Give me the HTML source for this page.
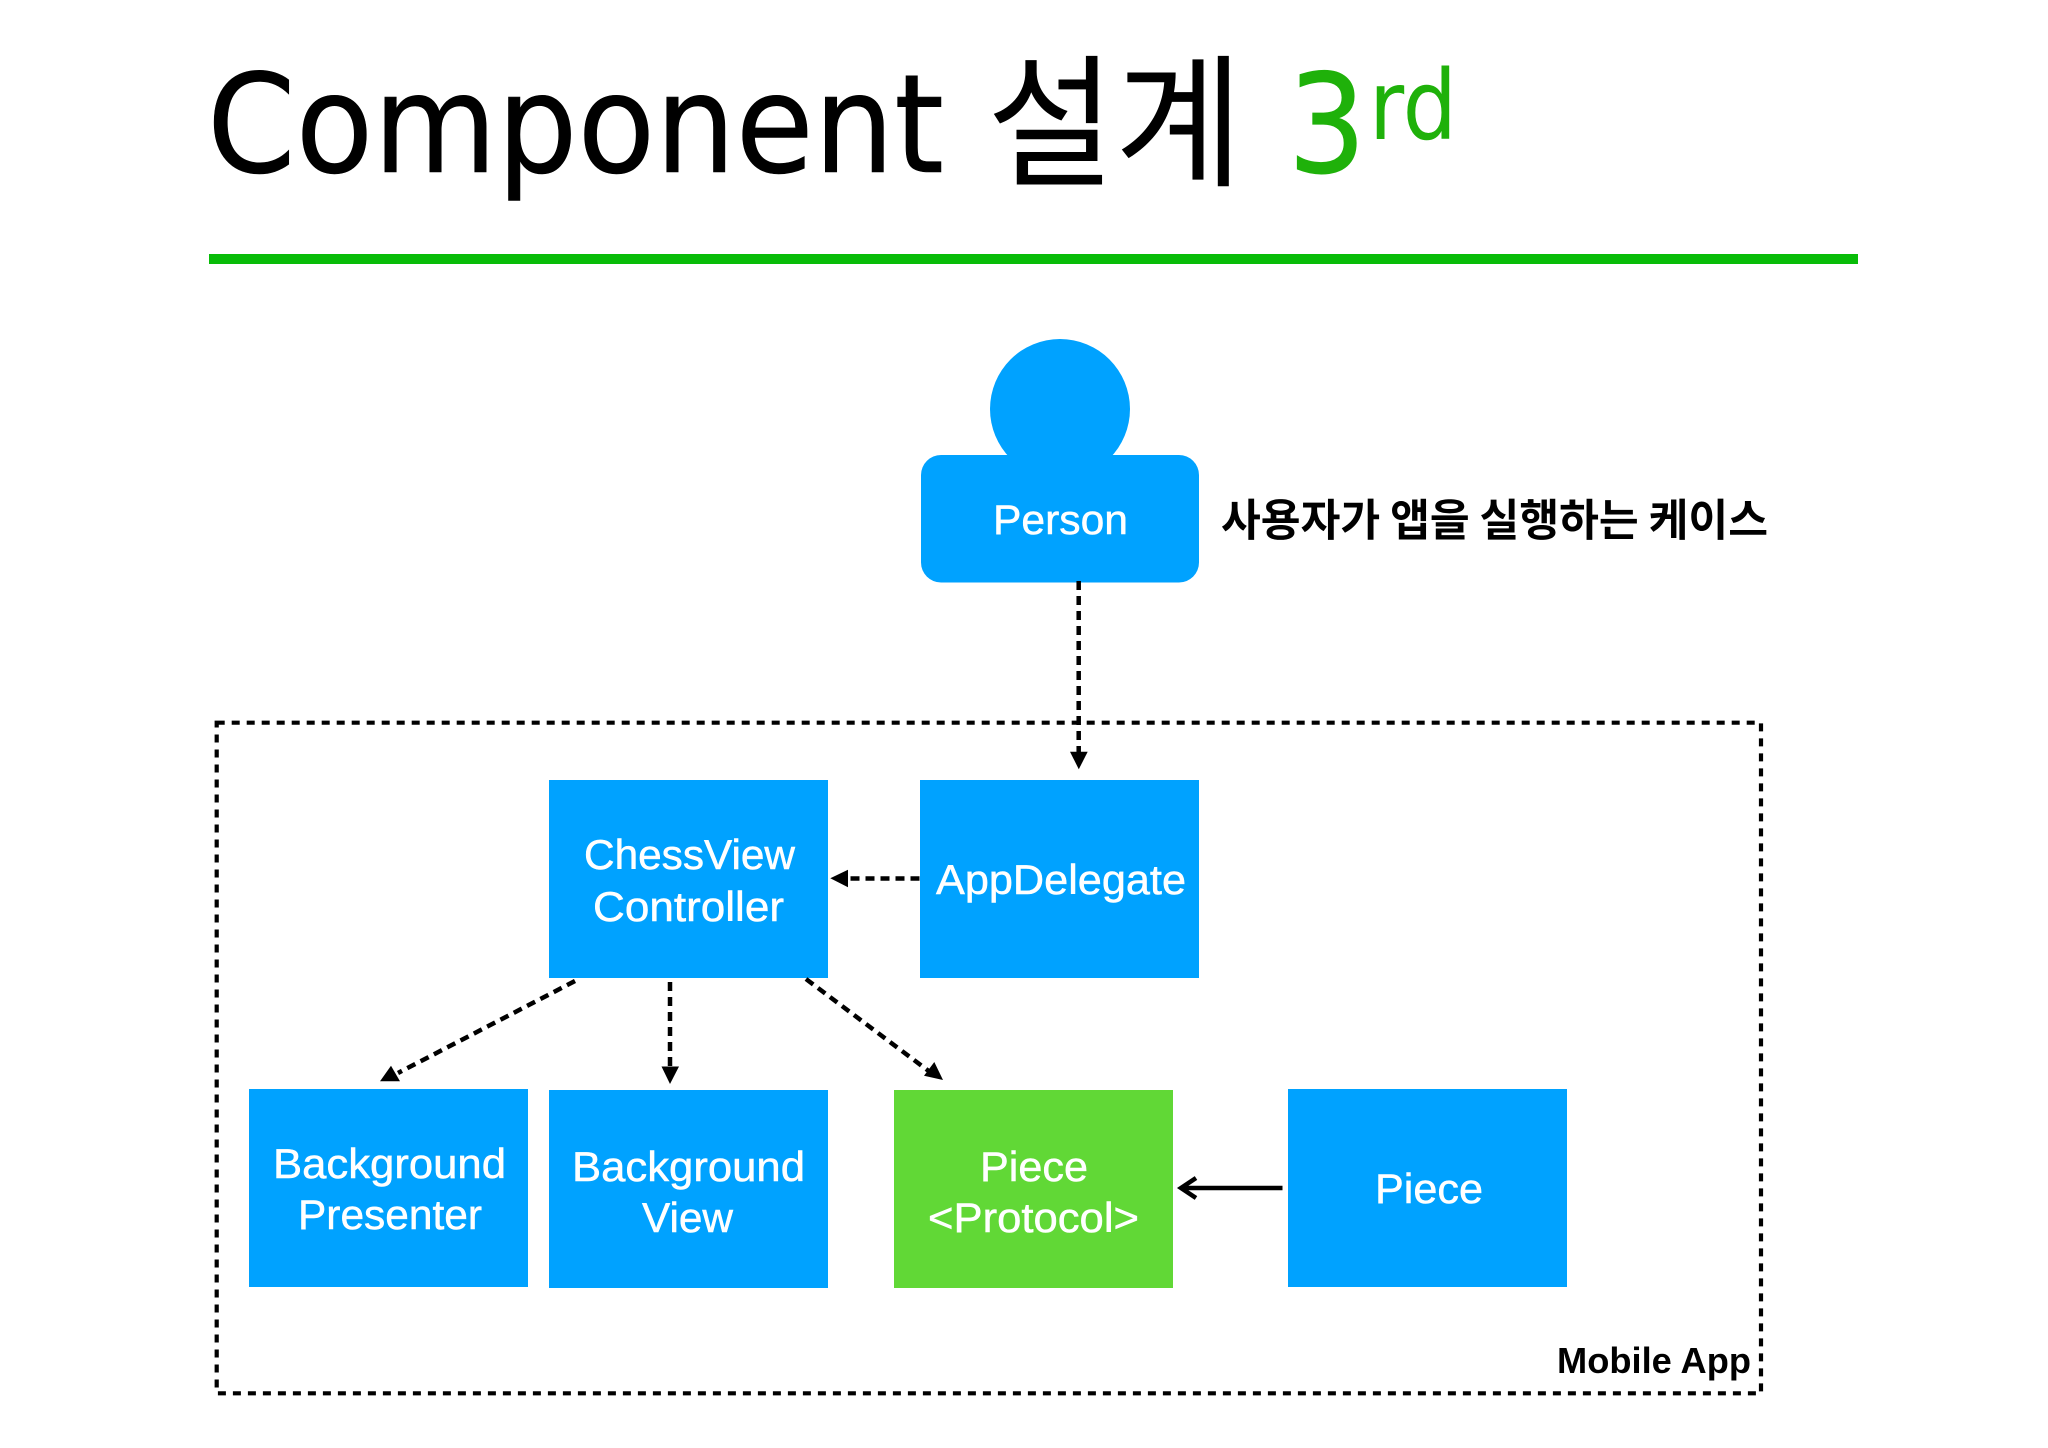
<!DOCTYPE html>
<html>
<head>
<meta charset="utf-8">
<style>
html,body{margin:0;padding:0;background:#fff;width:2048px;height:1448px;overflow:hidden}
svg{display:block}
.t{font-family:"Liberation Sans",sans-serif;font-size:42px;fill:#fff;stroke:#fff;stroke-width:.5px}
.d{font-family:"DejaVu Sans",sans-serif}
</style>
</head>
<body>
<svg width="2048" height="1448" viewBox="0 0 2048 1448" xmlns="http://www.w3.org/2000/svg">
<rect width="2048" height="1448" fill="#fff"/>

<!-- Title -->
<text class="d" x="207" y="172" font-size="137" fill="#000" stroke="#000" stroke-width=".6" textLength="737" lengthAdjust="spacingAndGlyphs">Component</text>
<text x="987" y="175" font-size="144" fill="#000" style="font-family:'Noto Sans CJK KR',sans-serif" textLength="256" lengthAdjust="spacingAndGlyphs">설계</text>
<text class="d" x="1288" y="172" font-size="137" fill="#1fb10a" stroke="#1fb10a" stroke-width="1" textLength="78" lengthAdjust="spacingAndGlyphs">3</text>
<text class="d" x="1369" y="139" font-size="96" fill="#1fb10a" textLength="88" lengthAdjust="spacingAndGlyphs">rd</text>
<rect x="209" y="254" width="1649" height="10" fill="#08bc08"/>

<!-- Person -->
<circle cx="1060" cy="409" r="70" fill="#00a2ff"/>
<rect x="921" y="455" width="278" height="127.500" rx="20" ry="20" fill="#00a2ff"/>
<text class="t" x="993" y="534" textLength="135" lengthAdjust="spacingAndGlyphs">Person</text>
<text x="1221" y="535.500" font-size="44" font-weight="700" fill="#000" style="font-family:'Noto Sans CJK KR',sans-serif" textLength="547" lengthAdjust="spacingAndGlyphs">사용자가 앱을 실행하는 케이스</text>

<!-- Boundary -->
<rect x="216.700" y="722.700" width="1544.300" height="670.600" fill="none" stroke="#000" stroke-width="4.200" stroke-dasharray="8 7"/>

<!-- Boxes -->
<rect x="549" y="780" width="279" height="198" fill="#00a2ff"/>
<rect x="920" y="780" width="279" height="198" fill="#00a2ff"/>
<rect x="249" y="1089" width="279" height="198" fill="#00a2ff"/>
<rect x="549" y="1090" width="279" height="198" fill="#00a2ff"/>
<rect x="894" y="1090" width="279" height="198" fill="#61d836"/>
<rect x="1288" y="1089" width="279" height="198" fill="#00a2ff"/>

<!-- Box text -->
<text class="t" x="584" y="869" textLength="211" lengthAdjust="spacingAndGlyphs">ChessView</text>
<text class="t" x="593" y="921" textLength="191" lengthAdjust="spacingAndGlyphs">Controller</text>
<text class="t" x="936" y="894" textLength="250" lengthAdjust="spacingAndGlyphs">AppDelegate</text>
<text class="t" x="273" y="1178" textLength="233" lengthAdjust="spacingAndGlyphs">Background</text>
<text class="t" x="298" y="1229" textLength="184" lengthAdjust="spacingAndGlyphs">Presenter</text>
<text class="t" x="572" y="1181" textLength="233" lengthAdjust="spacingAndGlyphs">Background</text>
<text class="t" x="642" y="1232" textLength="91" lengthAdjust="spacingAndGlyphs">View</text>
<text class="t" x="980" y="1181" textLength="108" lengthAdjust="spacingAndGlyphs">Piece</text>
<text class="t" x="928" y="1232" textLength="211" lengthAdjust="spacingAndGlyphs">&lt;Protocol&gt;</text>
<text class="t" x="1375" y="1203" textLength="108" lengthAdjust="spacingAndGlyphs">Piece</text>
<text x="1557" y="1373" font-family="'Liberation Sans',sans-serif" font-size="36" font-weight="700" fill="#000" textLength="194" lengthAdjust="spacingAndGlyphs">Mobile App</text>

<!-- Connectors -->
<g fill="none" stroke="#000" stroke-width="4.500" stroke-dasharray="9 6">
<line x1="1078.700" y1="581" x2="1078.700" y2="753"/>
<line x1="919.500" y1="878.500" x2="849" y2="878.500"/>
<line x1="575" y1="981" x2="398" y2="1073"/>
<line x1="670" y1="982" x2="670" y2="1068"/>
<line x1="806" y1="979" x2="930" y2="1072"/>
</g>
<g fill="#000">
<polygon points="1070,751.700 1087.700,751.700 1078.800,769.300"/>
<polygon points="848,869.700 848,887.300 830.300,878.300"/>
<polygon points="380,1081.300 400,1081.300 391,1065.700"/>
<polygon points="661.500,1066.500 679,1066.500 670,1084"/>
<polygon points="924,1075.700 934.300,1062 943,1080"/>
</g>
<path d="M1282.500 1188H1181M1196 1178L1181 1188L1196 1198" fill="none" stroke="#000" stroke-width="4.500"/>
</svg>
</body>
</html>
